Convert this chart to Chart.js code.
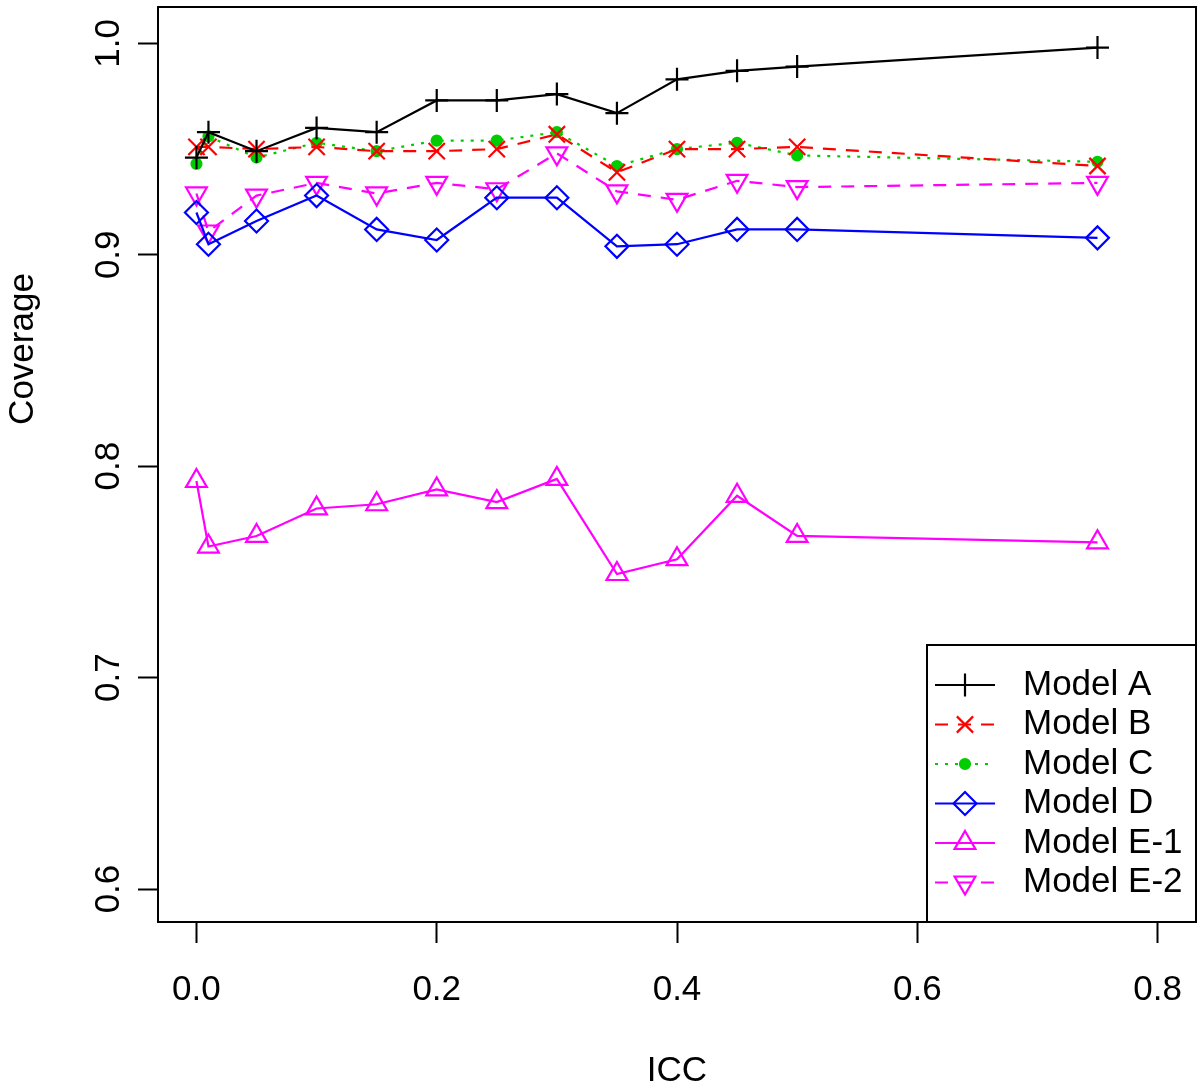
<!DOCTYPE html>
<html lang="en">
<head>
    <meta charset="UTF-8">
    <title>Coverage by ICC</title>
    <script src="https://cdn.jsdelivr.net/npm/chart.js"></script>
    <style>
        body { margin: 0; background: #fff; overflow: hidden; }
        #wrap { width: 1200px; height: 1085px; position: relative; }
    </style>
</head>
<body>
    <div id="wrap"><canvas id="chartCanvas"></canvas></div>

    <script>
        // values
        var icc = [0, 0.01, 0.05, 0.1, 0.15, 0.2, 0.25, 0.3, 0.35, 0.4, 0.45, 0.5, 0.75];
        var modelA = [0.946, 0.958, 0.949, 0.960, 0.958, 0.973, 0.973, 0.976, 0.967, 0.983, 0.987, 0.989, 0.998];
        var modelB = [0.951, 0.951, 0.950, 0.951, 0.949, 0.949, 0.950, 0.957, 0.939, 0.950, 0.950, 0.951, 0.942];
        var modelC = [0.943, 0.956, 0.946, 0.953, 0.949, 0.954, 0.954, 0.958, 0.942, 0.950, 0.953, 0.947, 0.944];
        var modelD = [0.920, 0.905, 0.916, 0.928, 0.912, 0.907, 0.927, 0.927, 0.904, 0.905, 0.912, 0.912, 0.908];
        var modelE1 = [0.793, 0.762, 0.767, 0.780, 0.782, 0.789, 0.783, 0.794, 0.749, 0.756, 0.786, 0.767, 0.764];
        var modelE2 = [0.929, 0.911, 0.928, 0.934, 0.929, 0.934, 0.931, 0.948, 0.930, 0.926, 0.935, 0.932, 0.934];

        var seriesNames = ['Model A', 'Model B', 'Model C', 'Model D', 'Model E-1', 'Model E-2'];
        var xTicks = [0, 0.2, 0.4, 0.6, 0.8];
        var yTicks = [0.6, 0.7, 0.8, 0.9, 1.0];

        var FONT = "'Liberation Sans', Arial, sans-serif";

        function pts(ys) {
            return icc.map(function (x, i) { return { x: x, y: ys[i] }; });
        }

        function series(label, ys, color, dash, style, radius, rotation, filled) {
            return {
                label: label,
                data: pts(ys),
                borderColor: color,
                borderWidth: 2.2,
                borderDash: dash,
                pointStyle: style,
                pointRadius: radius,
                pointBorderWidth: 2.2,
                pointBorderColor: color,
                pointBackgroundColor: filled ? color : 'rgba(0,0,0,0)',
                pointRotation: rotation,
                fill: false,
                tension: 0
            };
        }

        var datasets = [
            series(seriesNames[0], modelA, '#000000', [], 'cross', 11.5, 0, false),
            series(seriesNames[1], modelB, '#FF0000', [13, 10], 'crossRot', 11.5, 0, false),
            series(seriesNames[2], modelC, '#00CD00', [3, 7], 'circle', 5, 0, true),
            series(seriesNames[3], modelD, '#0000FF', [], 'rectRot', 11.5, 0, false),
            series(seriesNames[4], modelE1, '#FF00FF', [], 'triangle', 12, 0, false),
            series(seriesNames[5], modelE2, '#FF00FF', [13, 10], 'triangle', 12, 180, false)
        ];

        // box round the plot, rotated y labels and title, legend inside the plot
        var rStyle = {
            id: 'rStyle',
            afterDraw: function (chart) {
                var ctx = chart.ctx;
                var a = chart.chartArea;
                var ys = chart.scales.y;

                ctx.save();
                ctx.strokeStyle = '#000';
                ctx.lineWidth = 2;
                ctx.strokeRect(a.left, a.top, a.right - a.left, a.bottom - a.top);

                ctx.fillStyle = '#000';
                ctx.font = '35px ' + FONT;
                ctx.textAlign = 'center';
                ctx.textBaseline = 'alphabetic';
                yTicks.forEach(function (v) {
                    ctx.save();
                    ctx.translate(119, ys.getPixelForValue(v));
                    ctx.rotate(-Math.PI / 2);
                    ctx.fillText(v.toFixed(1), 0, 0);
                    ctx.restore();
                });
                ctx.save();
                ctx.translate(33, 349);
                ctx.rotate(-Math.PI / 2);
                ctx.fillText('Coverage', 0, 0);
                ctx.restore();

                // legend
                var lx = 927, ly = 645, rowY = 685, rowH = 39.5;
                ctx.fillStyle = '#fff';
                ctx.fillRect(lx, ly, a.right - lx, a.bottom - ly);
                ctx.strokeRect(lx, ly, a.right - lx, a.bottom - ly);
                chart.data.datasets.forEach(function (ds, i) {
                    var y = rowY + i * rowH;
                    ctx.save();
                    ctx.strokeStyle = ds.borderColor;
                    ctx.lineWidth = ds.borderWidth;
                    ctx.setLineDash(ds.borderDash);
                    ctx.beginPath();
                    ctx.moveTo(935, y);
                    ctx.lineTo(995, y);
                    ctx.stroke();
                    ctx.setLineDash([]);
                    ctx.fillStyle = ds.pointBackgroundColor;
                    ctx.lineWidth = ds.pointBorderWidth;
                    Chart.helpers.drawPoint(ctx, {
                        pointStyle: ds.pointStyle,
                        radius: ds.pointRadius,
                        rotation: ds.pointRotation,
                        borderWidth: ds.pointBorderWidth
                    }, 965, y);
                    ctx.restore();
                    ctx.fillStyle = '#000';
                    ctx.font = '35px ' + FONT;
                    ctx.textAlign = 'left';
                    ctx.textBaseline = 'middle';
                    ctx.fillText(ds.label, 1023, y);
                });
                ctx.restore();
            }
        };

        var ctx = document.getElementById('chartCanvas').getContext('2d');
        new Chart(ctx, {
            type: 'line',
            data: { datasets: datasets },
            options: {
                responsive: true,
                maintainAspectRatio: false,
                animation: false,
                layout: { autoPadding: false, padding: { top: 7, right: 4, left: 0, bottom: 0 } },
                plugins: {
                    legend: { display: false },
                    tooltip: { enabled: false }
                },
                scales: {
                    x: {
                        type: 'linear',
                        min: -0.032,
                        max: 0.832,
                        afterBuildTicks: function (s) {
                            s.ticks = xTicks.map(function (v) { return { value: v }; });
                        },
                        afterFit: function (s) {
                            s.height = 163;
                            s.paddingLeft = 0;
                            s.paddingRight = 0;
                        },
                        border: { display: false },
                        grid: {
                            drawOnChartArea: false,
                            tickLength: 21,
                            tickWidth: 2,
                            tickColor: '#000'
                        },
                        ticks: {
                            color: '#000',
                            padding: 26,
                            maxRotation: 0,
                            font: { family: FONT, size: 35 },
                            callback: function (v) { return v.toFixed(1); }
                        },
                        title: {
                            display: true,
                            text: 'ICC',
                            color: '#000',
                            padding: 0,
                            font: { family: FONT, size: 35, lineHeight: 0.8 }
                        }
                    },
                    y: {
                        type: 'linear',
                        min: 0.5844,
                        max: 1.0172,
                        afterBuildTicks: function (s) {
                            s.ticks = yTicks.map(function (v) { return { value: v }; });
                        },
                        afterFit: function (s) {
                            s.width = 158;
                            s.paddingTop = 0;
                            s.paddingBottom = 0;
                        },
                        border: { display: false },
                        grid: {
                            drawOnChartArea: false,
                            tickLength: 20,
                            tickWidth: 2,
                            tickColor: '#000'
                        },
                        ticks: { display: false }
                    }
                }
            },
            plugins: [rStyle]
        });
    </script>
</body>
</html>
